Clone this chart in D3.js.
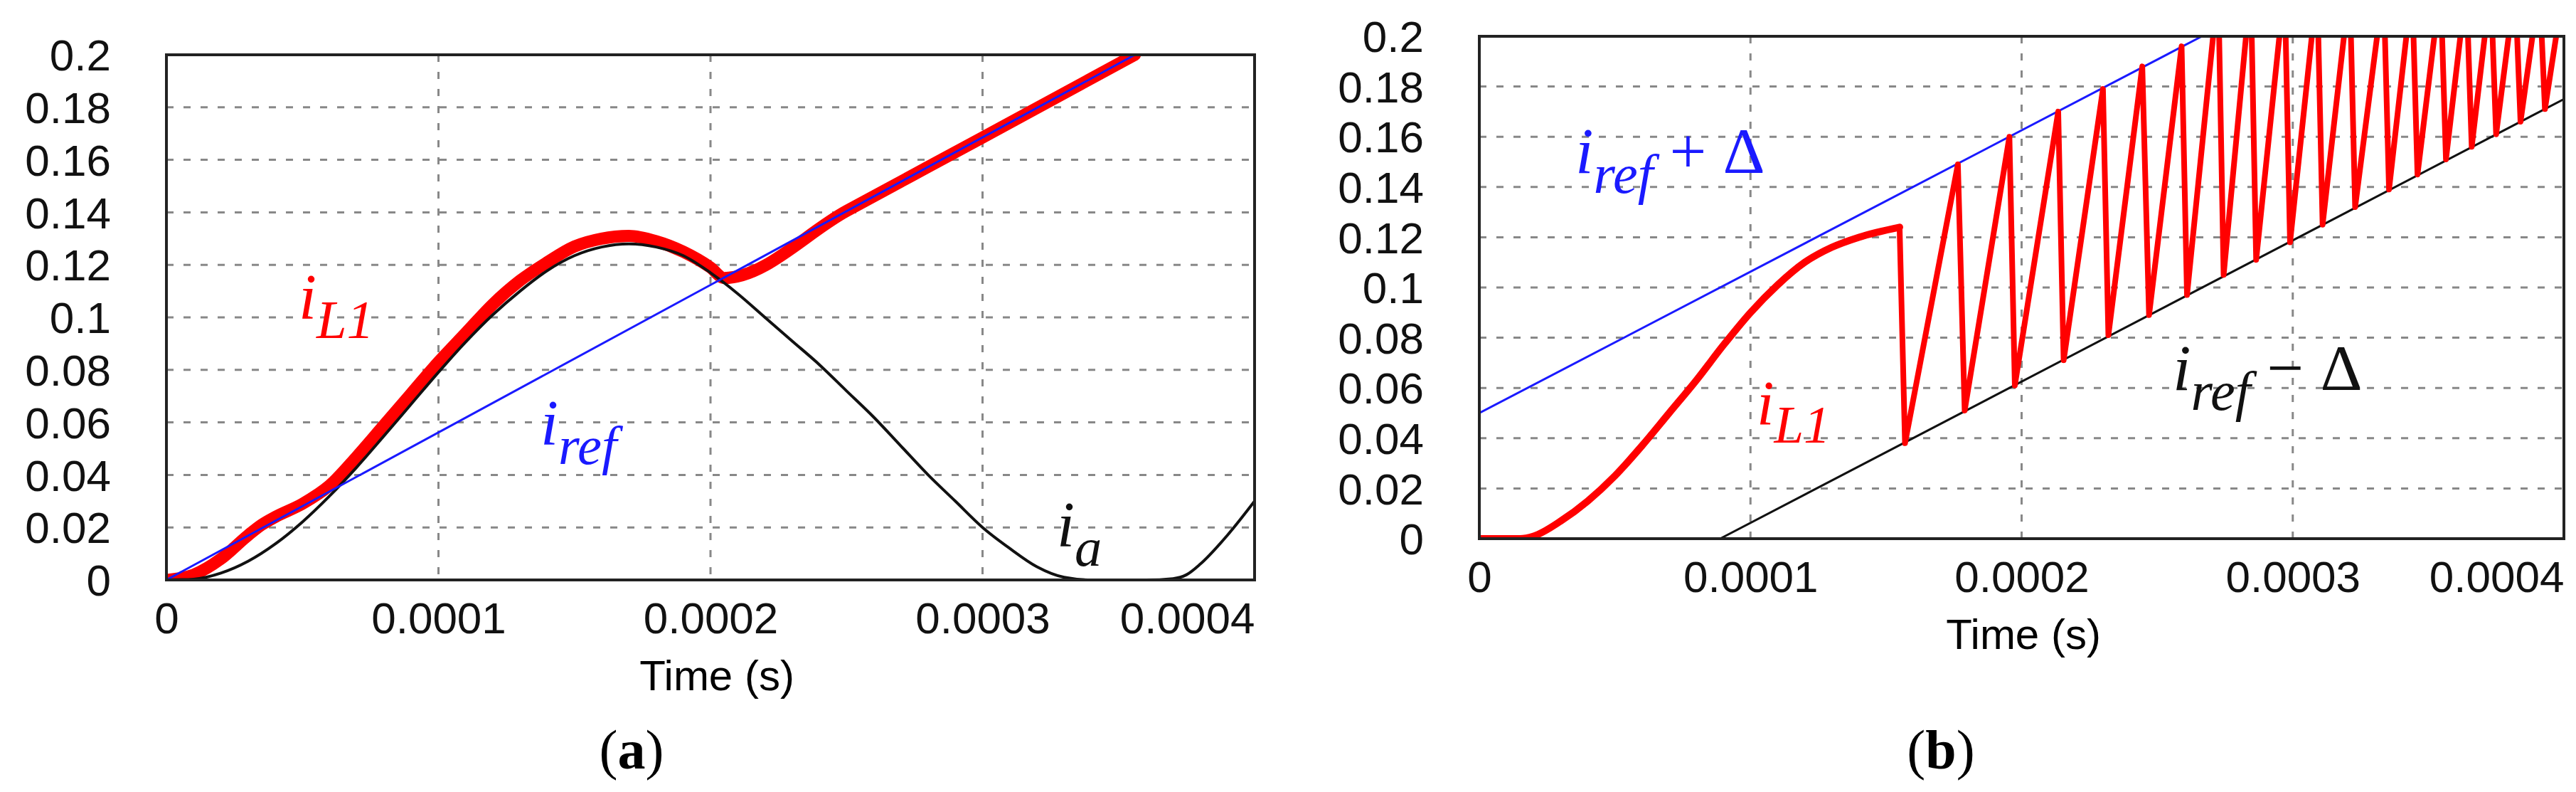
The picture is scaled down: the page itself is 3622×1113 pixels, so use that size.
<!DOCTYPE html>
<html>
<head>
<meta charset="utf-8">
<script src="https://cdn.jsdelivr.net/npm/d3@7"></script>
<style>
  body { margin: 0; background: #fff; }
  .tick text { font-family: "Liberation Sans Narrow", "Liberation Sans", Arial, sans-serif; fill: #111; }
  .ann { font-family: "Liberation Serif", "DejaVu Serif", serif; font-style: italic; }
</style>
</head>
<body>
<svg id="chart" width="3622" height="1113"></svg>
<script>
// ---- data (time in units of 1e-4 s, current in A) ----
var xTicks = [0, 0.0001, 0.0002, 0.0003, 0.0004];
var yTicks = [0, 0.02, 0.04, 0.06, 0.08, 0.1, 0.12, 0.14, 0.16, 0.18, 0.2];

// panel (a)
var iaT = [0,0.1,0.2,0.3,0.4,0.5,0.6,0.7,0.8,0.9,1.0,1.1,1.2,1.3,1.4,1.5,1.6,1.7,1.8,1.9,2.0,2.1,2.2,2.3,2.4,2.5,2.6,2.7,2.8,2.9,3.0,3.1,3.2,3.3,3.4,3.5,3.6,3.7,3.75,3.8,3.9,4.0];
var iaV = [0,0.0003,0.0026,0.0071,0.0137,0.0221,0.032,0.043,0.0549,0.067,0.0791,0.0906,0.101,0.110,0.1178,0.1235,0.1268,0.128,0.1268,0.1235,0.117,0.109,0.100,0.091,0.082,0.072,0.062,0.051,0.040,0.030,0.020,0.012,0.005,0.001,0,0,0,0.0005,0.002,0.006,0.017,0.03];
var irefAT = [0, 3.56];
var irefAV = [0, 0.2];
var iL1aT = [0,0.1,0.2,0.3,0.35,0.4,0.5,0.6,0.7,0.8,0.9,1.0,1.1,1.2,1.3,1.4,1.5,1.6,1.7,1.8,1.9,2.0,2.05,2.5,3.0,3.56];
var iL1aV = [0,0.002,0.008,0.017,0.021,0.024,0.029,0.036,0.047,0.059,0.071,0.083,0.094,0.105,0.114,0.121,0.127,0.130,0.131,0.129,0.125,0.119,0.115,0.1405,0.1685,0.2];

// panel (b)
var upperT = [0, 2.665];
var upperV = [0.05, 0.2];
var lowerT = [0.888, 4.0];
var lowerV = [0, 0.175];
var iL1bSmoothT = [0,0.15,0.2,0.3,0.4,0.5,0.6,0.7,0.8,0.9,1.0,1.1,1.2,1.3,1.4,1.55];
var iL1bSmoothV = [0,0,0.001,0.007,0.015,0.025,0.037,0.05,0.063,0.077,0.09,0.101,0.11,0.116,0.12,0.124];
var iL1bSwitchT = [1.55,1.57,1.765,1.79,1.955,1.975,2.135,2.155,2.30,2.32,2.445,2.47,2.59,2.61,2.725,2.745,2.845,2.865,2.97,2.99,3.09,3.11,3.21,3.23,3.335,3.355,3.44,3.46,3.545,3.565,3.64,3.66,3.73,3.75,3.82,3.84,3.91,3.93,4.0];
var iL1bSwitchV = [0.124,0.038,0.149,0.051,0.160,0.061,0.170,0.071,0.179,0.081,0.188,0.089,0.196,0.097,0.22,0.105,0.22,0.111,0.22,0.118,0.22,0.125,0.22,0.132,0.22,0.139,0.22,0.145,0.22,0.151,0.22,0.156,0.22,0.161,0.22,0.166,0.22,0.171,0.22];

var svg = d3.select("#chart");

function zip(t, v) { return t.map(function(d, i) { return [d * 1e-4, v[i]]; }); }

function panel(opts) {
  var x = d3.scaleLinear().domain([0, 0.0004]).range([opts.left, opts.right]);
  var y = d3.scaleLinear().domain([0, 0.2]).range([opts.bottom, opts.top]);
  var g = svg.append("g");
  var clipId = "clip" + opts.id;
  svg.append("clipPath").attr("id", clipId).append("rect")
    .attr("x", opts.left).attr("y", opts.top)
    .attr("width", opts.right - opts.left).attr("height", opts.bottom - opts.top);

  // grid
  g.selectAll(".hg").data(yTicks.slice(1)).enter().append("line")
    .attr("x1", opts.left).attr("x2", opts.right)
    .attr("y1", function(d) { return y(d); }).attr("y2", function(d) { return y(d); })
    .attr("stroke", "#888").attr("stroke-width", 3).attr("stroke-dasharray", "10,14");
  g.selectAll(".vg").data(xTicks.slice(1, 4)).enter().append("line")
    .attr("y1", opts.top).attr("y2", opts.bottom)
    .attr("x1", function(d) { return x(d); }).attr("x2", function(d) { return x(d); })
    .attr("stroke", "#888").attr("stroke-width", 3).attr("stroke-dasharray", "10,14");

  // axes
  var ya = g.append("g").attr("transform", "translate(" + (opts.left - 75) + ",0)")
    .call(d3.axisLeft(y).tickValues(yTicks).tickSize(0).tickFormat(function(d) { return d3.format("")(+d.toFixed(2)); }));
  ya.select(".domain").remove();
  ya.selectAll("text").attr("font-size", 62).attr("dy", "0.35em");
  var xa = g.append("g").attr("transform", "translate(0," + (opts.bottom + 28) + ")")
    .call(d3.axisBottom(x).tickValues(xTicks).tickSize(0).tickFormat(function(d) { return d === 0 ? "0" : d.toFixed(4); }));
  xa.select(".domain").remove();
  xa.selectAll("text").attr("font-size", 62);
  xa.selectAll(".tick").filter(function(d) { return d === 0.0004; }).select("text")
    .attr("text-anchor", "end").attr("x", 0);

  g.append("text").attr("x", opts.titleX).attr("y", opts.bottom + 155)
    .attr("text-anchor", "middle").attr("font-size", 60)
    .attr("font-family", "'Liberation Sans Narrow', 'Liberation Sans', sans-serif")
    .text("Time (s)");

  var plot = svg.append("g").attr("clip-path", "url(#" + clipId + ")");
  opts.series.forEach(function(s) {
    var line = d3.line().curve(s.smooth ? d3.curveMonotoneX : d3.curveLinear)
      .x(function(d) { return x(d[0]); }).y(function(d) { return y(d[1]); });
    plot.append("path").datum(s.data).attr("d", line).attr("fill", "none")
      .attr("stroke", s.color).attr("stroke-width", s.width)
      .attr("stroke-linejoin", "round").attr("stroke-linecap", "round");
  });

  // frame
  svg.append("rect").attr("x", opts.left).attr("y", opts.top)
    .attr("width", opts.right - opts.left).attr("height", opts.bottom - opts.top)
    .attr("fill", "none").attr("stroke", "#222").attr("stroke-width", 4);

  // caption
  var cap = svg.append("text").attr("x", opts.capX).attr("y", 1080)
    .attr("text-anchor", "middle").attr("font-size", 78)
    .attr("font-family", "'Liberation Serif', serif");
  cap.append("tspan").text("(");
  cap.append("tspan").attr("font-weight", "bold").text(opts.cap);
  cap.append("tspan").text(")");
  return { x: x, y: y };
}

function label(px, py, sub, rest, color, size) {
  var t = svg.append("text").attr("class", "ann").attr("x", px).attr("y", py)
    .attr("fill", color).attr("font-size", size);
  t.append("tspan").text("i");
  t.append("tspan").attr("dy", size * 0.3).attr("font-size", size * 0.85).text(sub);
  if (rest) t.append("tspan").attr("dy", -size * 0.3).attr("font-style", "normal").text(rest);
}

panel({ id: "a", left: 234, right: 1764, top: 77, bottom: 815, titleX: 1008, capX: 888, cap: "a",
  series: [
    { data: zip(iL1aT, iL1aV), color: "#ff0000", width: 17, smooth: true },
    { data: zip(iaT, iaV), color: "#111", width: 4, smooth: true },
    { data: zip(irefAT, irefAV), color: "#1a1aff", width: 3 }
  ] });
panel({ id: "b", left: 2080, right: 3605, top: 51, bottom: 757, titleX: 2845, capX: 2729, cap: "b",
  series: [
    { data: zip(upperT, upperV), color: "#1a1aff", width: 3 },
    { data: zip(lowerT, lowerV), color: "#111", width: 3 },
    { data: zip(iL1bSmoothT, iL1bSmoothV), color: "#ff0000", width: 10, smooth: true },
    { data: zip(iL1bSwitchT, iL1bSwitchV), color: "#ff0000", width: 8 }
  ] });

label(420, 448, "L1", null, "#ff0000", 90);
label(760, 625, "ref", null, "#1a1aff", 90);
label(1486, 768, "a", null, "#111", 90);
label(2215, 243, "ref", " + Δ", "#1a1aff", 92);
label(3055, 548, "ref", " − Δ", "#111", 92);
label(2470, 596, "L1", null, "#ff0000", 88);
</script>
</body>
</html>
